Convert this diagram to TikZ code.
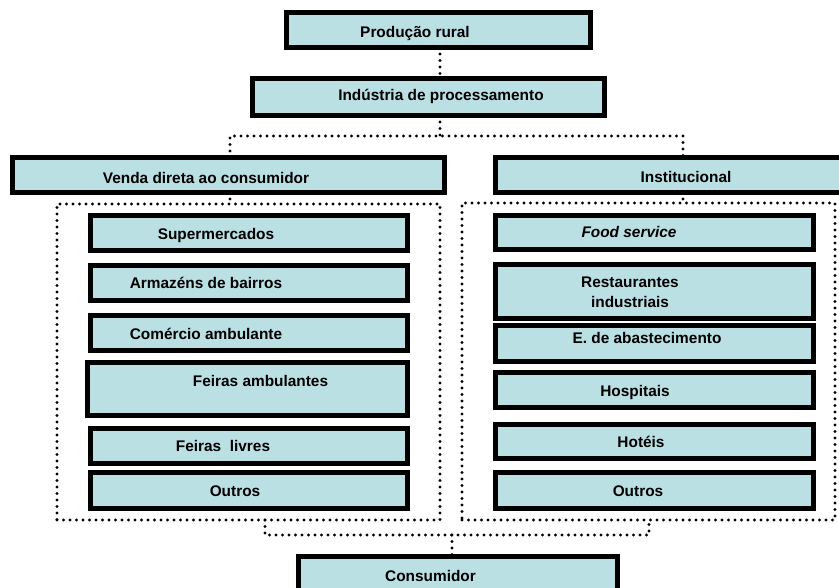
\documentclass[tikz,border=0pt]{standalone}
\usepackage{fontspec}
\setmainfont{Liberation Sans}
\usetikzlibrary{positioning}
\definecolor{boxfill}{RGB}{186,224,228}
\tikzset{
  box/.style={draw, line width=5pt, fill=boxfill, inner sep=0pt, outer sep=0pt},
  lbl/.style={font=\fontsize{15.4}{19.5}\selectfont\bfseries, text height=11pt, text depth=0pt, inner sep=0pt},
  lbltwo/.style={font=\fontsize{15.4}{19.5}\selectfont\bfseries, align=center, inner sep=0pt},
  dotline/.style={line width=3.2pt, line cap=round, dash pattern=on 0pt off 6.5pt},
  dotframe/.style={draw, dotline, inner sep=0pt, outer sep=0pt}
}
\begin{document}
\begin{tikzpicture}[x=1pt, y=-1pt]
\useasboundingbox (0,0) rectangle (839,588);
\node (prod) [box, minimum width=304pt, minimum height=35pt, label={[lbl,xshift=-23.5pt,yshift=-2.5pt]center:Produção rural}] at (438.5,30) {};
\node (ind) [box, minimum width=352pt, minimum height=37pt, label={[lbl,xshift=12.5pt,yshift=1.5pt]center:Indústria de processamento}] at (428.5,97) {};
\node (venda) [box, minimum width=432pt, minimum height=35pt, label={[lbl,xshift=-22.5pt,yshift=-3pt]center:Venda direta ao consumidor}] at (228.5,175) {};
\node (inst) [box, minimum width=350pt, minimum height=35pt, label={[lbl,xshift=15.5pt,yshift=-2.5pt]center:Institucional}] at (670.5,175) {};

\node (grpL) [dotframe, minimum width=383pt, minimum height=316pt] at (248.5,362) {};
\node (grpR) [dotframe, minimum width=373pt, minimum height=317pt] at (648.5,361.5) {};

\node (super) [box, minimum width=317pt, minimum height=35pt, label={[lbl,xshift=-33pt,yshift=-1.5pt]center:Supermercados}] at (249,233) {};
\node (armaz) [box, minimum width=317pt, minimum height=35pt, below=15pt of super, label={[lbl,xshift=-43pt]center:Armazéns de bairros}] {};
\node (comerc) [box, minimum width=317pt, minimum height=35pt, below=15pt of armaz, label={[lbl,xshift=-43pt,yshift=-1pt]center:Comércio ambulante}] {};
\node (feiraamb) [box, minimum width=320pt, minimum height=53pt, below=12pt of comerc, xshift=-1.5pt, label={[lbl,xshift=13pt,yshift=8.5pt]center:Feiras ambulantes}] {};
\node (feiraliv) [box, minimum width=317pt, minimum height=35pt, below=13pt of feiraamb, xshift=1.5pt, label={[lbl,xshift=-26pt]center:Feiras\ \ livres}] {};
\node (outrosL) [box, minimum width=317pt, minimum height=36pt, below=9pt of feiraliv, label={[lbl,xshift=-14pt]center:Outros}] {};

\node (food) [box, minimum width=318pt, minimum height=34pt, label={[lbl,xshift=-25.5pt]center:\textit{Food service}}] at (654.5,232.5) {};
\node (rest) [box, minimum width=318pt, minimum height=54pt, below=15pt of food, label={[lbltwo,xshift=-24.5pt,yshift=-1pt]center:Restaurantes\\industriais}] {};
\node (abast) [box, minimum width=318pt, minimum height=36pt, below=7pt of rest, label={[lbl,xshift=-7.5pt,yshift=5pt]center:E. de abastecimento}] {};
\node (hosp) [box, minimum width=318pt, minimum height=35pt, below=11pt of abast, label={[lbl,xshift=-19.5pt,yshift=-0.5pt]center:Hospitais}] {};
\node (hot) [box, minimum width=318pt, minimum height=34pt, below=17pt of hosp, label={[lbl,xshift=-13.5pt,yshift=-0.5pt]center:Hotéis}] {};
\node (outrosR) [box, minimum width=318pt, minimum height=36pt, below=14pt of hot, label={[lbl,xshift=-16.5pt]center:Outros}] {};

\node (cons) [box, minimum width=319pt, minimum height=37pt, label={[lbl,xshift=-27.5pt,yshift=-0.5pt]center:Consumidor}] at (458,575) {};

\coordinate (topj) at (440,136);
\coordinate (jl) at (230,136);
\coordinate (jr) at (683,136);
\coordinate (bl) at (265,535);
\coordinate (br) at (649,535);
\coordinate (bj) at (452,535);
\draw[dotline] (prod.south -| topj) -- (ind.north -| topj);
\draw[dotline] (ind.south -| topj) -- (topj);
\draw[dotline] (venda.north -| jl) |- (jr) -- (inst.north -| jr);
\draw[dotline] (venda.south -| jl) -- (grpL.north -| jl);
\draw[dotline] (inst.south -| jr) -- (grpR.north -| jr);
\draw[dotline] (grpL.south -| bl) -- (bl) -- (br) -- (grpR.south -| br);
\draw[dotline] (bj) -- (cons.north -| bj);
\end{tikzpicture}
\end{document}
